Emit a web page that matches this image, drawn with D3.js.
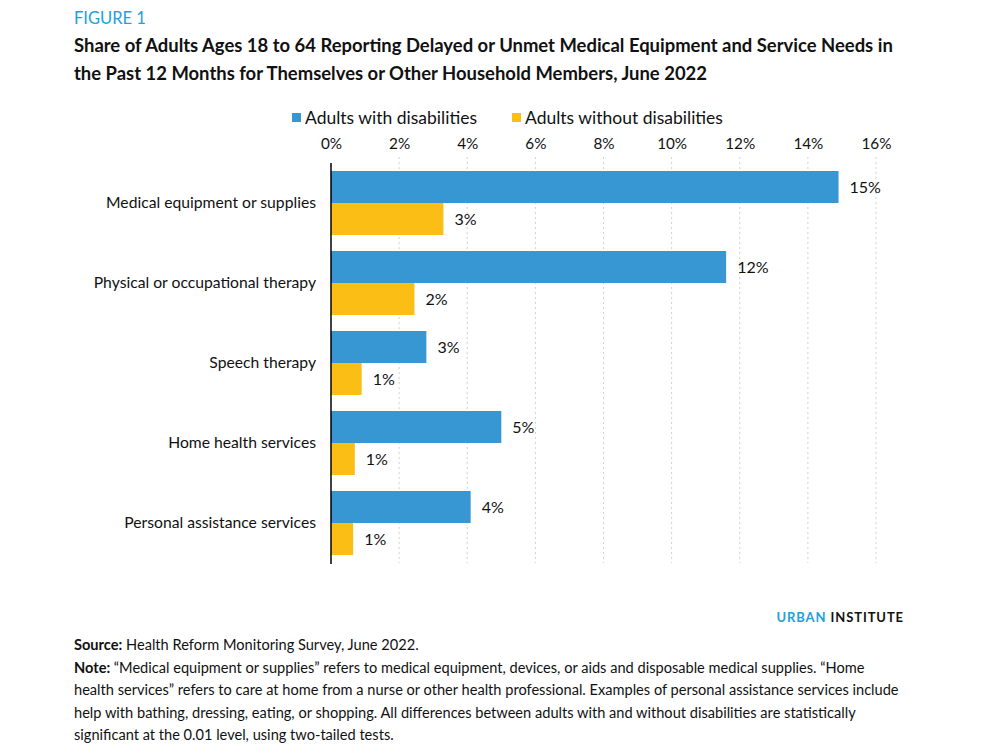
<html>
<head>
<meta charset="utf-8">
<title>Figure 1</title>
<style>
  body { margin: 0; background: #fff; }
  text { font-family: Lato, "Open Sans", sans-serif; }
</style>
</head>
<body>
<script src="https://cdn.jsdelivr.net/npm/d3@7/dist/d3.min.js"></script>
<script>

var width = 996;
var height = 754;

// data
var categories = ["Medical equipment or supplies", "Physical or occupational therapy",
                  "Speech therapy", "Home health services", "Personal assistance services"];
var withDis = [14.9, 11.6, 2.8, 5.0, 4.1];
var withoutDis = [3.3, 2.45, 0.9, 0.7, 0.65];
var seriesNames = ["Adults with disabilities", "Adults without disabilities"];
var xTicks = [0, 2, 4, 6, 8, 10, 12, 14, 16];
var noteLines = [
  "\u201CMedical equipment or supplies\u201D refers to medical equipment, devices, or aids and disposable medical supplies. \u201CHome",
  "health services\u201D refers to care at home from a nurse or other health professional. Examples of personal assistance services include",
  "help with bathing, dressing, eating, or shopping. All differences between adults with and without disabilities are statistically",
  "significant at the 0.01 level, using two-tailed tests."
];

var blue = "#3797d3";
var yellow = "#fbbe14";
var ink = "#111";

var svg = d3.select("body").append("svg")
    .attr("width", width)
    .attr("height", height);

// header
svg.append("text").attr("x", 74).attr("y", 24)
    .attr("fill", "#22a0dc").attr("font-size", 16.5).text("FIGURE 1");
svg.append("text").attr("x", 74).attr("y", 52)
    .attr("fill", ink).attr("font-size", 18.45).attr("font-weight", "bold")
    .text("Share of Adults Ages 18 to 64 Reporting Delayed or Unmet Medical Equipment and Service Needs in");
svg.append("text").attr("x", 74).attr("y", 80)
    .attr("fill", ink).attr("font-size", 18.45).attr("font-weight", "bold")
    .text("the Past 12 Months for Themselves or Other Household Members, June 2022");

// legend
var legend = [{x: 292, c: blue}, {x: 512, c: yellow}];
legend.forEach(function(d, i) {
  svg.append("rect").attr("x", d.x).attr("y", 113).attr("width", 9).attr("height", 9).attr("fill", d.c);
  svg.append("text").attr("x", d.x + 13).attr("y", 124)
      .attr("font-size", 17.5).attr("fill", ink).text(seriesNames[i]);
});

// scales
var x = d3.scaleLinear().domain([0, 16]).range([331, 876]);
var y = d3.scaleBand().domain(categories).range([163, 563]).paddingInner(0.2).paddingOuter(0.1);

// grid
svg.append("g").selectAll("line").data(xTicks.slice(1)).enter().append("line")
    .attr("x1", function(d) { return x(d); }).attr("x2", function(d) { return x(d); })
    .attr("y1", 157).attr("y2", 563)
    .attr("stroke", "#d2d2d2").attr("stroke-width", 1).attr("stroke-dasharray", "2,3");

// top axis labels
var xAxis = d3.axisTop(x).tickValues(xTicks).tickSize(0).tickPadding(0)
    .tickFormat(function(d) { return d + "%"; });
var ax = svg.append("g").attr("transform", "translate(0,149)").call(xAxis);
ax.select(".domain").remove();
ax.selectAll("text").attr("font-family", "Lato, sans-serif").attr("font-size", 15.3).attr("fill", ink);

// bars
var half = y.bandwidth() / 2;
var groups = svg.append("g").selectAll("g").data(categories).enter().append("g")
    .attr("transform", function(d) { return "translate(0," + y(d) + ")"; });

groups.append("rect").attr("x", x(0)).attr("y", 0)
    .attr("width", function(d, i) { return x(withDis[i]) - x(0); })
    .attr("height", half).attr("fill", blue);
groups.append("rect").attr("x", x(0)).attr("y", half)
    .attr("width", function(d, i) { return x(withoutDis[i]) - x(0); })
    .attr("height", half).attr("fill", yellow);

groups.append("text")
    .attr("x", function(d, i) { return x(withDis[i]) + 11; })
    .attr("y", half / 2).attr("dy", "0.35em")
    .attr("font-size", 16).attr("fill", ink)
    .text(function(d, i) { return Math.round(withDis[i]) + "%"; });
groups.append("text")
    .attr("x", function(d, i) { return x(withoutDis[i]) + 11; })
    .attr("y", half * 1.5).attr("dy", "0.35em")
    .attr("font-size", 16).attr("fill", ink)
    .text(function(d, i) { return Math.max(1, Math.round(withoutDis[i])) + "%"; });

// category labels
groups.append("text")
    .attr("x", 316).attr("y", half).attr("dy", "0.35em")
    .attr("text-anchor", "end").attr("font-size", 15.7).attr("fill", ink)
    .text(function(d) { return d; });

// baseline
svg.append("line").attr("x1", x(0)).attr("x2", x(0)).attr("y1", 163).attr("y2", 564)
    .attr("stroke", "#000").attr("stroke-width", 1.5);

// branding
var brand = svg.append("text").attr("x", 904).attr("y", 622).attr("text-anchor", "end")
    .attr("font-size", 13).attr("font-weight", "bold").attr("letter-spacing", 0.9);
brand.append("tspan").attr("fill", "#22a0dc").text("URBAN ");
brand.append("tspan").attr("fill", ink).text("INSTITUTE");

// footer
var src = svg.append("text").attr("x", 74).attr("y", 650).attr("font-size", 14.6).attr("fill", ink);
src.append("tspan").attr("font-weight", "bold").text("Source:");
src.append("tspan").text(" Health Reform Monitoring Survey, June 2022.");

noteLines.forEach(function(line, i) {
  var t = svg.append("text").attr("x", 74).attr("y", 672.5 + i * 22.6).attr("font-size", 14.6).attr("fill", ink);
  if (i === 0) t.append("tspan").attr("font-weight", "bold").text("Note: ");
  t.append("tspan").text(line);
});

</script>
</body>
</html>
